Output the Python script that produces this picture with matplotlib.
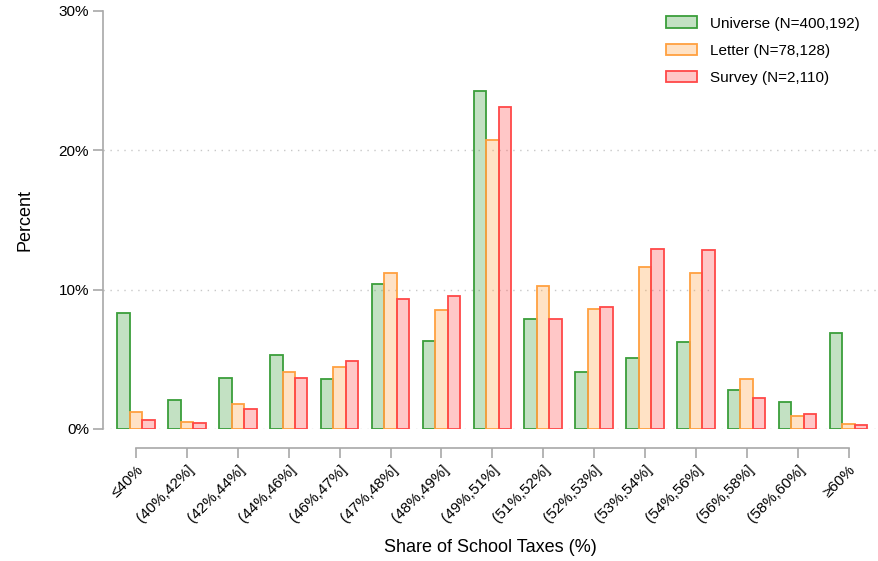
import matplotlib
matplotlib.use("Agg")
import matplotlib.pyplot as plt
from matplotlib import font_manager
import numpy as np

families = [f.name for f in font_manager.fontManager.ttflist]
base_font = "Liberation Sans Narrow" if "Liberation Sans Narrow" in families else "Liberation Sans"
plt.rcParams["font.family"] = [base_font, "DejaVu Sans"]

categories = ["≤40%", "(40%,42%]", "(42%,44%]", "(44%,46%]", "(46%,47%]",
              "(47%,48%]", "(48%,49%]", "(49%,51%]", "(51%,52%]", "(52%,53%]",
              "(53%,54%]", "(54%,56%]", "(56%,58%]", "(58%,60%]", "≥60%"]

universe = [8.35, 2.08, 3.68, 5.33, 3.61, 10.41, 6.34, 24.29, 7.92, 4.09,
            5.07, 6.27, 2.78, 1.96, 6.87]
letter = [1.20, 0.50, 1.79, 4.11, 4.45, 11.20, 8.54, 20.75, 10.29, 8.64,
          11.63, 11.18, 3.61, 0.93, 0.38]
survey = [0.65, 0.41, 1.41, 3.68, 4.86, 9.33, 9.57, 23.10, 7.87, 8.78,
          12.95, 12.83, 2.20, 1.05, 0.31]

series = [
    ("Universe (N=400,192)", universe, "#3a9e3a"),
    ("Letter (N=78,128)", letter, "#ffa040"),
    ("Survey (N=2,110)", survey, "#ff4848"),
]
y_ticks = [0, 10, 20, 30]

fig = plt.figure(figsize=(8.79, 5.61), dpi=100)
ax = fig.add_axes([103 / 879, 1 - 429 / 561, (877 - 103) / 879, (429 - 11) / 561])

x = np.arange(len(categories))
w = 0.245
for i, (name, vals, col) in enumerate(series):
    ax.bar(x + (i - 1) * w, vals, width=w, facecolor=matplotlib.colors.to_rgba(col, 0.3),
           edgecolor=col, linewidth=1.3, label=name, zorder=3)

ax.set_xlim(-0.65, 14.56)
ax.set_ylim(0, 30)

for v in y_ticks[:-1]:
    ax.axhline(v, color="#c8c8c8", linestyle=(0, (1, 4)), linewidth=1, zorder=1)

for side in ("top", "right"):
    ax.spines[side].set_visible(False)
ax.spines["left"].set_color("#a8a8a8")
ax.spines["left"].set_linewidth(1.2)
ax.spines["left"].set_bounds(0, 30)
ax.spines["bottom"].set_color("#a8a8a8")
ax.spines["bottom"].set_linewidth(1.2)
ax.spines["bottom"].set_position(("outward", 14))
ax.spines["bottom"].set_bounds(0, 14)

ax.set_yticks(y_ticks)
ax.set_yticklabels([f"{v}%" for v in y_ticks], fontsize=11)
ax.set_xticks(x)
ax.set_xticklabels(categories, rotation=45, ha="right", rotation_mode="anchor", fontsize=11)
ax.tick_params(axis="both", color="#a8a8a8", width=1.2, length=7, pad=3)

ax.set_ylabel("Percent", fontsize=13, labelpad=18)
ax.set_xlabel("Share of School Taxes (%)", fontsize=13, labelpad=10)

leg = ax.legend(loc="upper right", frameon=False, fontsize=11, bbox_to_anchor=(0.995, 1.02),
                handlelength=2.0, handleheight=0.8, labelspacing=0.85, handletextpad=0.85)

fig.savefig("out.png", dpi=100)
